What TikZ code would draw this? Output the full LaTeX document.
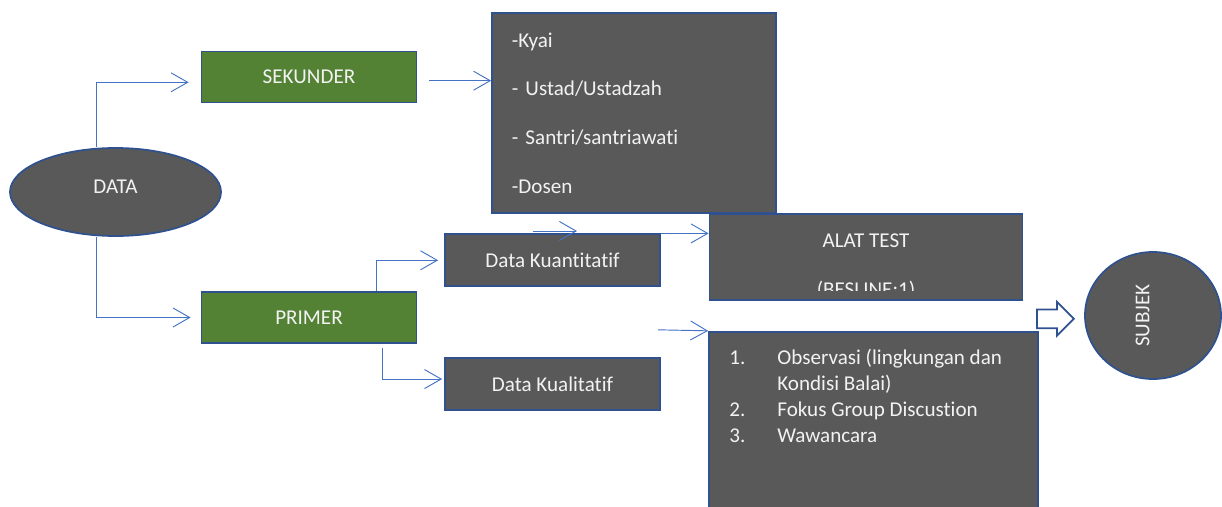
\documentclass[tikz,border=0pt]{standalone}
\usepackage{fontspec}
\setmainfont{Carlito}[Ligatures=NoCommon]
\usetikzlibrary{shapes.geometric, shapes.arrows, arrows.meta, positioning, calc}

\definecolor{boxgray}{HTML}{595959}
\definecolor{boxgreen}{HTML}{548235}
\definecolor{edgeblue}{HTML}{2F528F}
\definecolor{linkblue}{HTML}{4472C4}
\definecolor{txtwhite}{HTML}{F2F2F2}

\begin{document}
\begin{tikzpicture}[
    x=0.03cm, y=-0.03cm,
    box/.style={rectangle, draw=edgeblue, fill=boxgray, line width=1.5pt, text=txtwhite, font=\fontsize{18}{20}\selectfont, align=center, inner sep=0pt},
    greenbox/.style={box, fill=boxgreen, minimum width=6.45cm, minimum height=1.53cm},
    databox/.style={box, minimum width=6.45cm, minimum height=1.56cm},
    oval/.style={ellipse, draw=edgeblue, fill=boxgray, line width=1.5pt, text=txtwhite, font=\fontsize{18}{20}\selectfont, inner sep=0pt},
    bigarrow/.style={single arrow, draw=edgeblue, fill=white, line width=1.5pt, minimum height=1.11cm, text height=0.51cm, text depth=0cm, single arrow head extend=0.225cm, inner sep=0pt},
    link/.style={draw=linkblue, line width=0.8pt, -{Straight Barb[length=0.5cm, width=0.57cm]}}
]

% Page
\path[use as bounding box] (0,0) rectangle (1222,507);
\clip (0,0) rectangle (1222,507);

% Source
\node[oval, minimum width=6.33cm, minimum height=2.64cm, text depth=0.3cm] (data) at (115.5,192) {DATA};

% Kinds of data
\node[greenbox] (sekunder) at (309,77) {SEKUNDER};
\node[greenbox] (primer) at (309,317.5) {PRIMER};

% Informants
\node[box, minimum height=6cm, text width=7.32cm, inner xsep=0.6cm, align=left, font=\fontsize{18}{41.8}\selectfont] (actors) at (634,113.3) {-Kyai\\- Ustad/Ustadzah\\- Santri/santriawati\\-Dosen};

% Data types
\node[databox] (kuant) at (552.5,260.3) {Data Kuantitatif};
\node[databox, below=2.1cm of kuant] (kual) {Data Kualitatif};

% Instruments
\node[box, minimum width=9.39cm, minimum height=2.58cm, path picture={
    \clip (path picture bounding box.north west) rectangle ($(path picture bounding box.south east)+(0,-10)$);
    \node[text=txtwhite, align=center, inner sep=0pt, font=\fontsize{18}{41.8}\selectfont] at ($(path picture bounding box.center)+(0,10)$) {ALAT TEST\\(BESLINE:1)};
}] (alat) at (866,257) {};

\node[box, minimum width=9.87cm, minimum height=5.64cm] (obs) at (873.5,425.7) {};
\node[text=txtwhite, font=\fontsize{18}{22.2}\selectfont, anchor=north west, inner sep=0pt] (obsList) at ($(obs.north west)+(21,15)$) {%
  \begin{tabular}{@{}p{1.44cm}@{}p{8cm}@{}}
  1. & Observasi (lingkungan dan\newline Kondisi Balai)\\
  2. & Fokus Group Discustion\\
  3. & Wawancara
  \end{tabular}};

% Target
\node[bigarrow, anchor=tail] (toSubjek) at (1036,318.8) {};
\node[oval, rotate=90, minimum width=3.81cm, minimum height=4.08cm, text depth=0.63cm] (subjek) at (1153,315.5) {SUBJEK};

% Connections
\draw[link] ($(data.north)+(-19,0)$) |- ($(sekunder.west)+(-12,5.3)$);
\draw[link] ($(data.south)+(-19,0)$) |- ($(primer.west)+(-10,0)$);
\draw[link] ($(sekunder.east)+(12,3.7)$) -- ($(sekunder.east -| actors.west)+(0,3.7)$);

\draw[link] ($(primer.north)+(67.7,0)$) |- ($(kuant.west)+(-6,0)$);
\draw[link] ($(primer.south)+(73.7,3.7)$) |- ($(kual.west)+(-2,-5)$);

\coordinate (freeA) at (532.7,231);
\coordinate (freeB) at (577,231);
\draw[link] (freeA) -- (freeB);

\draw[link] (kuant.north east) -- (kuant.north east -| alat.west);
\draw[link] ($(obs.north west)+(-50,-1)$) -- (obs.north west);

\end{tikzpicture}
\end{document}
